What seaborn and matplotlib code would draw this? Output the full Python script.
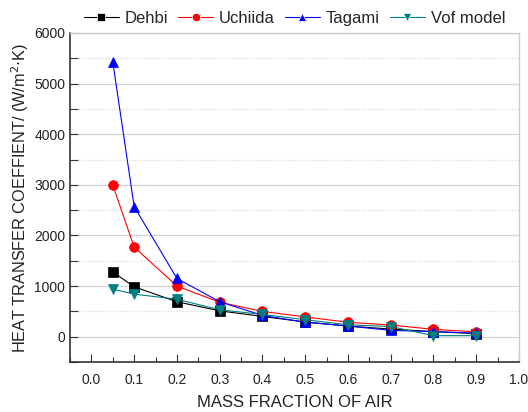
import pandas as pd
import numpy as np
import seaborn as sb
import matplotlib.pyplot as plt
from matplotlib.ticker import MultipleLocator

# mass fraction of air
aMassFraction = [0.05, 0.1, 0.2, 0.3, 0.4, 0.5, 0.6, 0.7, 0.8, 0.9]

# heat transfer coefficient (W/m2K)
aDehbi = [1280, 985, 690, 510, 400, 290, 210, 150, 100, 60]
aUchiida = [2995, 1770, 1000, 680, 500, 390, 285, 230, 145, 95]
aTagami = [5430, 2570, 1150, 690, 420, 285, 210, 125, 100, 70]
aVof = [940, 840, 740, 530, 440, 335, 235, 200, 20, 20]

aSeriesNames = ["Dehbi", "Uchiida", "Tagami", "Vof model"]
aColors = ["black", "red", "blue", "#008080"]
aMarkers = ["s", "o", "^", "v"]

pdPlotData = pd.concat([
    pd.DataFrame({"x": aMassFraction, "y": aVals, "series": sName})
    for sName, aVals in zip(aSeriesNames, [aDehbi, aUchiida, aTagami, aVof])
])

sb.set_style("white")
plt.rcParams["font.family"] = ["Liberation Sans", "DejaVu Sans"]

fig = plt.figure(figsize=(5.28, 4.12), dpi=100)
ax = fig.add_axes([0.1326, 0.1214, 0.8504, 0.7986])

oPlot = sb.lineplot(data=pdPlotData, x="x", y="y", hue="series", style="series",
                    palette=aColors, markers=aMarkers, dashes=False,
                    markersize=7, markeredgewidth=0.5, linewidth=0.8, ax=ax)
for oLine, sColor in zip(ax.lines, aColors):
    oLine.set_markeredgecolor(sColor)

ax.set_xlim(-0.05, 1.0)
ax.set_ylim(-500, 6000)
ax.xaxis.set_major_locator(MultipleLocator(0.1))
ax.xaxis.set_minor_locator(MultipleLocator(0.05))
ax.yaxis.set_major_locator(MultipleLocator(1000))
ax.yaxis.set_minor_locator(MultipleLocator(500))
ax.set_xticks(np.arange(0, 1.01, 0.1))
ax.set_xticklabels(["0.0", "0.1", "0.2", "0.3", "0.4", "0.5", "0.6", "0.7", "0.8", "0.9", "1.0"])

ax.grid(False)
ax.yaxis.grid(True, which="major", color="#d4d4d4", linewidth=0.9)
ax.yaxis.grid(True, which="minor", color="#d4d4d4", linestyle=":", linewidth=0.8)
ax.set_axisbelow(True)

ax.tick_params(axis="both", which="both", bottom=True, left=True, top=False, right=False)
ax.tick_params(axis="both", which="major", direction="in", length=6, width=0.8,
               color="#333333", labelsize=10, labelcolor="#222222")
ax.tick_params(axis="both", which="minor", direction="in", length=3.5, width=0.8,
               color="#333333")
ax.tick_params(axis="y", which="minor", length=6)
ax.tick_params(axis="x", pad=8)

for sSide in ["left", "bottom"]:
    ax.spines[sSide].set_color("#333333")
    ax.spines[sSide].set_linewidth(1.2)
for sSide in ["top", "right"]:
    ax.spines[sSide].set_color("#cccccc")
    ax.spines[sSide].set_linewidth(1.0)

ax.set_xlabel("MASS FRACTION OF AIR", fontsize=12, color="#222222", labelpad=6)
ax.set_ylabel("HEAT TRANSFER COEFFIENT/ (W/m$^2$$\\cdot$K)", fontsize=11.7, color="#222222", labelpad=2)

oLegend = ax.legend(loc="lower center", bbox_to_anchor=(0.5, 0.995), ncol=4, frameon=False,
                    fontsize=12, handlelength=2.1, columnspacing=0.6, handletextpad=0.35,
                    borderaxespad=0.1, markerscale=0.85)

fig.savefig("out.png", dpi=100)
